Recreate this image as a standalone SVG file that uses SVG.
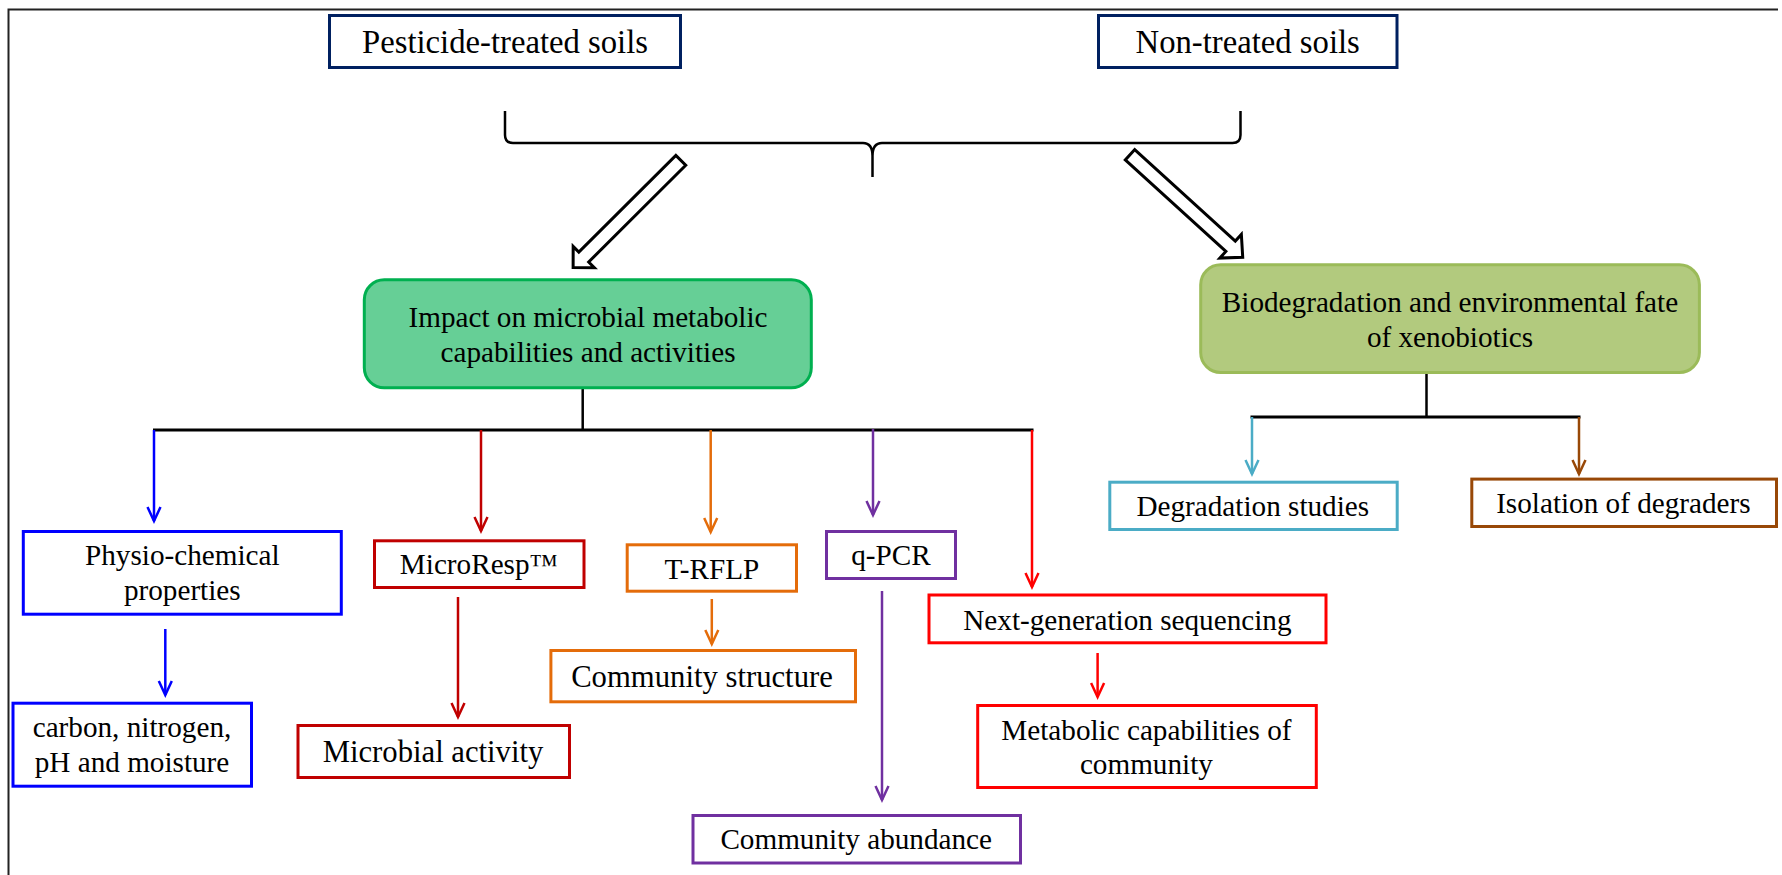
<svg xmlns="http://www.w3.org/2000/svg" width="1782" height="875" viewBox="0 0 1782 875">
<defs>
<style>
text{font-family:"Liberation Serif","Times New Roman",serif;font-size:29.2px;fill:#000;text-anchor:middle}
.big{font-size:32.7px}
.mid{font-size:30.7px}
.box{fill:#fff;stroke-width:3}
.ln{fill:none;stroke-width:2.5}
.hollow{fill:#fff;stroke:#000;stroke-width:3;stroke-linejoin:miter}
</style>
<marker id="aBlue" markerUnits="userSpaceOnUse" markerWidth="20" markerHeight="20" refX="0" refY="0" viewBox="-16 -10 20 20" orient="auto"><path d="M-14,-6.5 L0,0 L-14,6.5" fill="none" stroke="#0000ff" stroke-width="2.5"/></marker>
<marker id="aDred" markerUnits="userSpaceOnUse" markerWidth="20" markerHeight="20" refX="0" refY="0" viewBox="-16 -10 20 20" orient="auto"><path d="M-14,-6.5 L0,0 L-14,6.5" fill="none" stroke="#c00000" stroke-width="2.5"/></marker>
<marker id="aOrange" markerUnits="userSpaceOnUse" markerWidth="20" markerHeight="20" refX="0" refY="0" viewBox="-16 -10 20 20" orient="auto"><path d="M-14,-6.5 L0,0 L-14,6.5" fill="none" stroke="#e46c0a" stroke-width="2.5"/></marker>
<marker id="aPurple" markerUnits="userSpaceOnUse" markerWidth="20" markerHeight="20" refX="0" refY="0" viewBox="-16 -10 20 20" orient="auto"><path d="M-14,-6.5 L0,0 L-14,6.5" fill="none" stroke="#7030a0" stroke-width="2.5"/></marker>
<marker id="aRed" markerUnits="userSpaceOnUse" markerWidth="20" markerHeight="20" refX="0" refY="0" viewBox="-16 -10 20 20" orient="auto"><path d="M-14,-6.5 L0,0 L-14,6.5" fill="none" stroke="#ff0000" stroke-width="2.5"/></marker>
<marker id="aLblue" markerUnits="userSpaceOnUse" markerWidth="20" markerHeight="20" refX="0" refY="0" viewBox="-16 -10 20 20" orient="auto"><path d="M-14,-6.5 L0,0 L-14,6.5" fill="none" stroke="#4bacc6" stroke-width="2.5"/></marker>
<marker id="aBrown" markerUnits="userSpaceOnUse" markerWidth="20" markerHeight="20" refX="0" refY="0" viewBox="-16 -10 20 20" orient="auto"><path d="M-14,-6.5 L0,0 L-14,6.5" fill="none" stroke="#984807" stroke-width="2.5"/></marker>
</defs>
<rect width="1782" height="875" fill="#fff"/>
<g id="frame" fill="none" stroke="#222" stroke-width="2">
<path d="M8.5,875 V9.5 H1778"/>
</g>

<g id="connectors">
<path d="M505,111 V135 Q505,143 513,143 H863 Q872.5,143 872.5,156 V177 M872.5,156 Q872.5,143 882,143 H1232.5 Q1240.5,143 1240.5,135 V111" fill="none" stroke="#000" stroke-width="2.5"/>
<polygon class="hollow" transform="translate(680.8,160.3) rotate(135.1)" points="0,-7 137,-7 137,-15 152,0 137,15 137,7 0,7"/>
<polygon class="hollow" transform="translate(1130,154.7) rotate(42.3)" points="0,-7 136,-7 136,-16 152.4,0 136,16 136,7 0,7"/>
<path class="ln" stroke="#000" d="M582.7,389 V430"/>
<path fill="none" stroke="#000" stroke-width="3" d="M153,430 H1033.5"/>
<path class="ln" stroke="#000" d="M1426.5,374 V417"/>
<path fill="none" stroke="#000" stroke-width="3" d="M1250.5,417 H1580.5"/>
<path class="ln" stroke="#0000ff" marker-end="url(#aBlue)" d="M154,430 V521"/>
<path class="ln" stroke="#0000ff" marker-end="url(#aBlue)" d="M165.3,629 V695"/>
<path class="ln" stroke="#c00000" marker-end="url(#aDred)" d="M481,430 V531"/>
<path class="ln" stroke="#c00000" marker-end="url(#aDred)" d="M458,597 V717"/>
<path class="ln" stroke="#e46c0a" marker-end="url(#aOrange)" d="M710.7,430 V532"/>
<path class="ln" stroke="#e46c0a" marker-end="url(#aOrange)" d="M711.8,599 V644"/>
<path class="ln" stroke="#7030a0" marker-end="url(#aPurple)" d="M873,429 V515"/>
<path class="ln" stroke="#7030a0" marker-end="url(#aPurple)" d="M882,591 V800"/>
<path class="ln" stroke="#ff0000" marker-end="url(#aRed)" d="M1032,430 V587"/>
<path class="ln" stroke="#ff0000" marker-end="url(#aRed)" d="M1097.6,653 V697"/>
<path class="ln" stroke="#4bacc6" marker-end="url(#aLblue)" d="M1252,417 V474"/>
<path class="ln" stroke="#984807" marker-end="url(#aBrown)" d="M1579,417 V474"/>
</g>

<g id="pesticide">
<rect class="box" stroke="#002060" x="329.5" y="15.5" width="351" height="52"/>
<text class="big" x="505" y="53">Pesticide-treated soils</text>
</g>
<g id="nontreated">
<rect class="box" stroke="#002060" x="1098.5" y="15.5" width="298.5" height="52"/>
<text class="big" x="1247.7" y="53">Non-treated soils</text>
</g>
<g id="impact">
<rect x="364.3" y="279.8" width="447" height="108" rx="20" fill="#66cf96" stroke="#00b050" stroke-width="3"/>
<text x="588" y="327">Impact on microbial metabolic</text>
<text x="588" y="362">capabilities and activities</text>
</g>
<g id="biodegradation">
<rect x="1200.7" y="264.8" width="498.7" height="107.7" rx="20" fill="#b2ca7e" stroke="#9bbb59" stroke-width="3"/>
<text x="1450" y="312">Biodegradation and environmental fate</text>
<text x="1450" y="347">of xenobiotics</text>
</g>
<g id="physio">
<rect class="box" stroke="#0000ff" x="23.3" y="531.5" width="318" height="82.7"/>
<text x="182.3" y="565">Physio-chemical</text>
<text x="182.3" y="600">properties</text>
</g>
<g id="carbon">
<rect class="box" stroke="#0000ff" x="13" y="703.2" width="238.5" height="83"/>
<text x="132" y="737">carbon, nitrogen,</text>
<text x="132" y="772">pH and moisture</text>
</g>
<g id="microresp">
<rect class="box" stroke="#c00000" x="374.5" y="540.8" width="209.5" height="46.7"/>
<text x="479" y="574">MicroResp™</text>
</g>
<g id="microbialactivity">
<rect class="box" stroke="#c00000" x="298" y="725.5" width="271.5" height="52"/>
<text class="mid" x="433" y="762">Microbial activity</text>
</g>
<g id="trflp">
<rect class="box" stroke="#e46c0a" x="627.2" y="544.8" width="169.3" height="46.4"/>
<text x="711.9" y="578.5">T-RFLP</text>
</g>
<g id="communitystructure">
<rect class="box" stroke="#e46c0a" x="550.9" y="650.5" width="304.6" height="51.3"/>
<text class="mid" x="702" y="687">Community structure</text>
</g>
<g id="qpcr">
<rect class="box" stroke="#7030a0" x="826.5" y="531.5" width="129" height="47"/>
<text x="891" y="564.5">q-PCR</text>
</g>
<g id="communityabundance">
<rect class="box" stroke="#7030a0" x="693" y="815.5" width="327.5" height="47.5"/>
<text x="856.2" y="849">Community abundance</text>
</g>
<g id="ngs">
<rect class="box" stroke="#ff0000" x="929" y="595" width="397" height="47.8"/>
<text x="1127.4" y="629.5">Next-generation sequencing</text>
</g>
<g id="metabolic">
<rect class="box" stroke="#ff0000" x="977.7" y="705.5" width="338.6" height="82"/>
<text x="1146.4" y="739.5">Metabolic capabilities of</text>
<text x="1146.4" y="774">community</text>
</g>
<g id="degradation">
<rect class="box" stroke="#4bacc6" x="1109.8" y="482.2" width="287.4" height="47.3"/>
<text x="1252.8" y="515.5">Degradation studies</text>
</g>
<g id="isolation">
<rect class="box" stroke="#984807" x="1471.8" y="479.1" width="304.7" height="47.4"/>
<text x="1623.4" y="513">Isolation of degraders</text>
</g>
</svg>
